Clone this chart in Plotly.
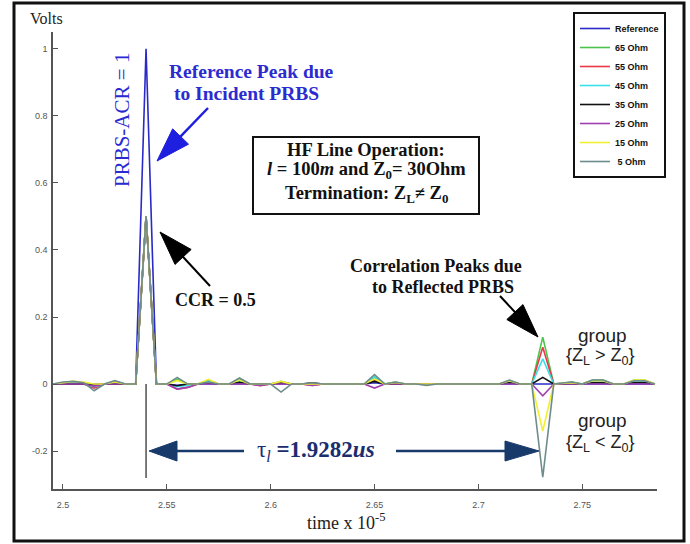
import plotly.graph_objects as go

# ---------------- data ----------------
t = [2.495, 2.500, 2.505, 2.510, 2.515, 2.520, 2.525, 2.530, 2.535, 2.540,
     2.545, 2.550, 2.555, 2.560, 2.565, 2.570, 2.575, 2.580, 2.585, 2.590,
     2.595, 2.600, 2.605, 2.610, 2.615, 2.620, 2.625, 2.630, 2.635, 2.640,
     2.645, 2.650, 2.655, 2.660, 2.665, 2.670, 2.675, 2.680, 2.685, 2.690,
     2.695, 2.700, 2.705, 2.710, 2.715, 2.720, 2.7257, 2.731, 2.7363, 2.745,
     2.750, 2.755, 2.760, 2.765, 2.770, 2.775, 2.780, 2.785]

series_names = ["Reference", "65 Ohm", "55 Ohm", "45 Ohm", "35 Ohm", "25 Ohm", "15 Ohm", " 5 Ohm"]

v_ref = [0, 0, 0, 0, 0, 0, 0, 0, 0, 1.0,
         0, 0, -0.004, 0, 0, 0, 0, 0, 0, 0,
         0, 0, 0, 0, 0, 0, 0, 0, 0, 0,
         0, 0.004, 0, 0, 0, 0, 0, 0, 0, 0,
         0, 0, 0, 0, 0, 0, 0, 0, 0, 0,
         0, 0, 0, 0, 0, 0, 0, 0]
v_65 = [0, 0.004, 0.006, 0.004, -0.006, 0, 0.008, 0, 0, 0.5,
        0, 0, 0.015, 0, 0, 0.012, 0, 0, 0.016, 0,
        0, 0, 0.008, 0, 0, 0, 0, 0, 0, 0,
        0, 0.02, 0, 0.006, 0, 0, 0, 0, 0, 0,
        0, 0, 0, 0, 0.01, 0, 0, 0.14, 0, 0.006,
        0, 0.012, 0.012, 0, 0, 0.012, 0.012, 0]
v_55 = [0, 0, 0, 0, -0.012, 0, 0, 0, 0, 0.5,
        0, 0, -0.015, -0.01, 0, 0.006, 0, 0, 0.008, 0,
        -0.005, 0, 0.006, 0, 0, -0.004, 0, 0, 0, 0,
        0, 0.012, 0, 0, 0, 0, 0, 0, 0, 0,
        0, 0, 0, 0, 0.006, 0, 0, 0.11, 0, 0,
        0, 0.006, 0.006, 0, 0, 0.006, 0.006, 0]
v_45 = [0, 0, 0.003, 0, -0.008, 0, 0.004, 0, 0, 0.5,
        0, 0, -0.008, -0.005, 0, 0.008, 0, 0, 0.01, 0,
        0, 0, 0.006, 0, 0, 0, 0, 0, 0, 0,
        0, 0.022, 0, 0.004, 0, 0, 0, 0, 0, 0,
        0, 0, 0, 0, 0.006, 0, 0, 0.075, 0, 0,
        0, 0.006, 0.006, 0, 0, 0.006, 0.006, 0]
v_35 = [0, 0, 0, 0, -0.004, 0, 0, 0, 0, 0.5,
        0, 0, -0.005, 0, 0, 0.004, 0, 0, 0.005, 0,
        0, 0, 0.004, 0, 0, 0.004, 0, 0, 0, 0,
        0, 0.008, 0, 0, 0, 0, 0, 0, 0, 0,
        0, 0, 0, 0, 0.004, 0, 0, 0.02, 0, 0,
        0, 0.004, 0.004, 0, 0, 0.004, 0.004, 0]
v_25 = [0, 0, 0, 0, -0.006, 0, 0, 0, 0, 0.5,
        0, 0, -0.015, -0.01, 0, 0, 0, 0, 0, 0,
        -0.004, 0, 0, 0, 0, -0.004, 0, 0, 0, 0,
        0, -0.012, 0, 0, 0, 0, 0, 0, 0, 0,
        0, 0, 0, 0, 0, 0, 0, -0.035, 0, 0,
        0, 0, 0, 0, 0, 0, 0, 0]
v_15 = [0, 0.004, 0.008, 0.006, 0, 0, 0.006, 0, 0, 0.5,
        0, 0, 0.01, 0, 0, 0.014, 0, 0, 0.012, 0,
        0, 0, 0.008, 0, 0, 0, 0, 0, 0, 0,
        0, 0.015, 0, 0.005, 0, 0, 0, 0, 0, 0,
        0, 0, 0, 0, 0.01, 0, 0, -0.14, 0, 0.004,
        0, 0.01, 0.01, 0, 0, 0.012, 0.012, 0]
v_5 = [0, 0.006, 0.008, 0.004, -0.02, 0, 0.01, 0, 0, 0.5,
       0, 0, 0.02, 0, 0, 0.006, 0, 0, 0.018, 0,
       0, 0, -0.024, 0, 0, 0.004, 0, 0, 0, 0,
       0, 0.028, 0, 0.006, 0, 0, -0.004, 0, 0, 0,
       0, 0, 0, 0, 0.012, 0, 0, -0.278, 0, 0.006,
       0, 0.012, 0.012, 0, 0, 0.01, 0.01, 0]

series_values = [v_ref, v_65, v_55, v_45, v_35, v_25, v_15, v_5]
series_colors = ["#2a2ac8", "#4cc44c", "#e8384a", "#38e0e8", "#111111", "#a040b0", "#f2f030", "#6e8c8c"]

x_tickvals = [2.5, 2.55, 2.6, 2.65, 2.7, 2.75]
x_ticktext = ["2.5", "2.55", "2.6", "2.65", "2.7", "2.75"]
y_tickvals = [-0.2, 0, 0.2, 0.4, 0.6, 0.8, 1.0]
y_ticktext = ["-0.2", "0", "0.2", "0.4", "0.6", "0.8", "1"]

# ---------------- layout geometry ----------------
W, H = 690, 544
PL, PR, PT, PB = 53, 657, 32, 489


def px(x):
    return (x - PL) / (PR - PL)


def py(y):
    return (PB - y) / (PB - PT)


fig = go.Figure()
for name, vals, col in zip(series_names, series_values, series_colors):
    fig.add_trace(go.Scatter(x=t, y=vals, mode="lines", name=name,
                             line=dict(color=col, width=1.6)))

SERIF = "Liberation Serif, Times New Roman, serif"
SANS = "Liberation Sans, Arial, sans-serif"

shapes = []
annotations = []


def add_arrow(tail, tip, hl, hw, color, lw):
    dx, dy = tip[0] - tail[0], tip[1] - tail[1]
    L = (dx * dx + dy * dy) ** 0.5
    ux, uy = dx / L, dy / L
    bx, by = tip[0] - ux * hl, tip[1] - uy * hl
    nx, ny = -uy, ux
    p1 = (bx + nx * hw / 2, by + ny * hw / 2)
    p2 = (bx - nx * hw / 2, by - ny * hw / 2)
    shapes.append(dict(type="line", xref="paper", yref="paper",
                       x0=px(tail[0]), y0=py(tail[1]), x1=px(bx + ux * 2), y1=py(by + uy * 2),
                       line=dict(color=color, width=lw)))
    path = "M {} {} L {} {} L {} {} Z".format(px(tip[0]), py(tip[1]), px(p1[0]), py(p1[1]),
                                            px(p2[0]), py(p2[1]))
    shapes.append(dict(type="path", xref="paper", yref="paper", path=path,
                       fillcolor=color, line=dict(color=color, width=1)))


def add_text(text, x, y, size, color="#111111", family=SERIF, angle=0):
    annotations.append(dict(text=text, x=px(x), y=py(y), xref="paper", yref="paper",
                            xanchor="center", yanchor="middle", showarrow=False,
                            textangle=angle, font=dict(family=family, size=size, color=color)))


# outer frame
shapes.append(dict(type="rect", xref="paper", yref="paper",
                   x0=px(14), x1=px(684), y0=py(541), y1=py(3),
                   line=dict(color="#111111", width=3), fillcolor="rgba(0,0,0,0)"))
# info box
shapes.append(dict(type="rect", xref="paper", yref="paper",
                   x0=px(253), x1=px(479), y0=py(214), y1=py(137),
                   line=dict(color="#111111", width=2), fillcolor="white"))
# vertical marker below the reference peak
shapes.append(dict(type="line", xref="x", yref="paper", x0=t[9], x1=t[9],
                   y0=py(478), y1=py(384), line=dict(color="#222222", width=1.2)))

# arrows
add_arrow((208, 108), (157, 161), 34, 22, "#1f1fe0", 2.5)
add_arrow((210, 286), (160, 232), 34, 22, "#000000", 2)
add_arrow((500, 296), (538, 337), 34, 22, "#000000", 2)
add_arrow((244, 451), (149, 451), 28, 20, "#173a6a", 2.5)
add_arrow((396, 451), (539, 451), 34, 20, "#173a6a", 2.5)

# texts
add_text("Volts", 46, 19, 16, "#222222")
add_text("PRBS-ACR = 1", 122, 120, 21, "#2a2ad0", angle=-90)
add_text("<b>Reference Peak due</b>", 251, 71, 19.5, "#2b2bd0")
add_text("<b>to Incident PRBS</b>", 246, 94, 19.5, "#2b2bd0")
add_text("<b>HF Line Operation:</b>", 366, 150, 18.5)
add_text("<b><i>l</i> = 100<i>m</i> and Z<sub>0</sub>= 30Ohm</b>", 366, 170, 18.5)
add_text("<b>Termination: Z<sub>L</sub>≠ Z<sub>0</sub></b>", 366, 194, 18.5)
add_text("<b>CCR = 0.5</b>", 215, 300, 18)
add_text("<b>Correlation Peaks due</b>", 436, 266, 18)
add_text("<b>to Reflected PRBS</b>", 443, 287, 18)
add_text("group", 602, 335, 19, "#222222", SANS)
add_text("{Z<sub>L</sub> &gt; Z<sub>0</sub>}", 600, 357, 18, "#222222", SANS)
add_text("group", 602, 420, 19, "#222222", SANS)
add_text("{Z<sub>L</sub> &lt; Z<sub>0</sub>}", 600, 443, 18, "#222222", SANS)
add_text("τ<sub><i>l</i></sub> <b>=1.9282<i>us</i></b>", 316, 451, 23, "#1a2d6e")
add_text("time x 10<sup>-5</sup>", 346, 521, 18, "#222222")

axis_common = dict(showline=True, linecolor="#555555", linewidth=1.5, ticks="inside",
                   ticklen=5, tickcolor="#555555", showgrid=False, zeroline=False,
                   tickfont=dict(family=SANS, size=9, color="#555555"))

fig.update_layout(
    width=W, height=H,
    margin=dict(l=PL, r=W - PR, t=PT, b=H - PB, pad=0),
    paper_bgcolor="white", plot_bgcolor="white",
    xaxis=dict(range=[2.4952, 2.786], tickvals=x_tickvals, ticktext=x_ticktext,
               ticklabelstandoff=6, **axis_common),
    yaxis=dict(range=[-0.313, 1.05], tickvals=y_tickvals, ticktext=y_ticktext,
               ticklabelstandoff=2, **axis_common),
    legend=dict(x=px(573), y=py(12), xanchor="left", yanchor="top",
                bordercolor="#111111", borderwidth=2, bgcolor="white",
                font=dict(family=SANS, size=9, color="#111111", weight="bold"),
                tracegroupgap=0),
    shapes=shapes, annotations=annotations, showlegend=True,
)

fig.write_html("out.html")
